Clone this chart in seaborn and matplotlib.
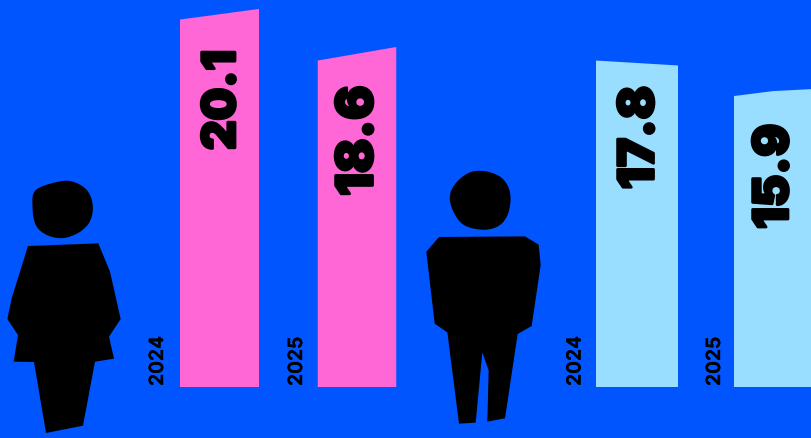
import numpy as np
import pandas as pd
import matplotlib
matplotlib.use("Agg")
import matplotlib.pyplot as plt
from matplotlib.patches import Polygon
import matplotlib.patheffects as pe
import seaborn as sns

# --- data ---
groups = ["women", "women", "men", "men"]
years = ["2024", "2025", "2024", "2025"]
values = [20.1, 18.6, 17.8, 15.9]
labels = ["20.1", "18.6", "17.8", "15.9"]

# --- layout / style ---
BG, PINK, SKY = "#0055FF", "#FF66D6", "#99DDFF"
bar_colors = [PINK, PINK, SKY, SKY]
centers = [219.5, 357.0, 637.0, 773.0]
bar_widths = [79, 78.5, 82, 78]
px_per_unit = 18.3
base_px = 388
W, H = 812, 439
top_left_off = [-0.02, -0.76, 0.04, 0.0]
top_mid_off = [0.27, -0.39, -0.095, 0.27]
top_right_off = [0.56, -0.02, -0.23, 0.38]
label_top_px = [49.5, 85.5, 86, 124]
label_x_px = [223, 359, 640.5, 775]
label_size = [33, 36.5, 35.5, 35]
year_x_px = [158, 297, 575.5, 715]

sns.set_theme(style="white")
plt.rcParams["font.family"] = ["Inter", "DejaVu Sans"]

fig = plt.figure(figsize=(W / 100, H / 100), dpi=100, facecolor=BG)
ax = fig.add_axes([0, 0, 1, 1], facecolor=BG)
df = pd.DataFrame({"pos": centers, "value": values, "year": years, "group": groups})
sns.barplot(data=df, x="pos", y="value", native_scale=True, color=PINK, width=0.5,
            errorbar=None, ax=ax, linewidth=0)
ax.set_xlim(0, W)
ax.set_ylim(-(H - base_px) / px_per_unit, base_px / px_per_unit)
ax.axis("off")

# bars with the slanted top cut of the reference, built from the seaborn rectangles
for bar, c, w, col, tl, tm, tr in zip(list(ax.patches), centers, bar_widths, bar_colors,
                                      top_left_off, top_mid_off, top_right_off):
    h = bar.get_height()
    x0, x1 = c - w / 2, c + w / 2
    bar.remove()
    ax.add_patch(Polygon([(x0, 0), (x1, 0), (x1, h + tr), (c, h + tm), (x0, h + tl)],
                         closed=True, facecolor=col, edgecolor="none"))

# pixel-space overlay for the silhouettes and text
ov = fig.add_axes([0, 0, 1, 1], facecolor="none")
ov.set_xlim(0, W)
ov.set_ylim(H - 1, -1)
ov.axis("off")


def smooth(pts, n=3):
    p = np.array(pts, float)
    for _ in range(n):
        q = np.roll(p, -1, axis=0)
        p = np.column_stack([0.75 * p + 0.25 * q, 0.25 * p + 0.75 * q]).reshape(-1, 2)
    return p


def shape(pts, ox, oy, rounded=False):
    p = np.array(pts, float) / 3 + (ox, oy)
    if rounded:
        p = smooth(p)
    ov.add_patch(Polygon(p, closed=True, facecolor="black", edgecolor="none"))


woman_head = [(97, 70), (118, 50), (190, 30), (228, 36), (265, 60), (281, 105), (274, 152),
              (247, 183), (210, 201), (180, 206), (143, 198), (112, 177), (100, 147), (97, 110)]
woman_body = [(84, 228), (295, 220), (330, 305), (362, 447), (327, 500), (342, 566), (285, 575),
              (249, 767), (138, 789), (102, 576), (41, 575), (54, 495), (22, 447), (35, 385)]
man_head = [(116, 110), (132, 73), (163, 44), (195, 31), (242, 35), (283, 56), (304, 100),
            (298, 157), (277, 193), (240, 210), (193, 208), (153, 193), (127, 152)]
man_body = [(87, 231), (345, 229), (386, 254), (392, 315), (365, 498), (323, 522), (285, 775),
            (232, 785), (236, 632), (217, 577), (197, 788), (147, 791), (112, 517), (74, 491),
            (49, 275)]
shape(woman_head, 0, 170, True)
shape(woman_body, 0, 170)
shape(man_head, 410, 160, True)
shape(man_body, 410, 160)

for lab, x, y, s in zip(labels, label_x_px, label_top_px, label_size):
    ov.text(x, y, lab, rotation=90, ha="center", va="top", fontsize=s, fontweight=900,
            color="black", path_effects=[pe.withStroke(linewidth=2, foreground="black")])
for yr, x in zip(years, year_x_px):
    ov.text(x, 386, yr, rotation=90, ha="center", va="bottom", fontsize=14, fontweight=600,
            color="black", path_effects=[pe.withStroke(linewidth=0.3, foreground="black")])

fig.savefig("out.png", dpi=100, facecolor=BG)
